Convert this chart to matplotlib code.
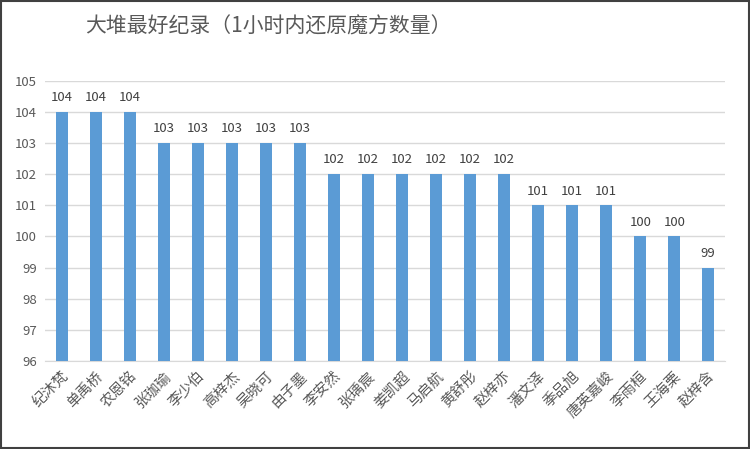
import matplotlib.pyplot as plt
from matplotlib.patches import Rectangle

plt.rcParams['font.family'] = ['Noto Sans CJK SC', 'DejaVu Sans']

names = ['纪沐梵', '单禹桥', '农恩铭', '张珈瑜', '李少伯', '高梓杰', '吴晓可', '由子墨',
         '李安然', '张瑀宸', '姜凯超', '马启航', '黄舒彤', '赵梓亦', '潘文泽', '季品旭',
         '唐英嘉峻', '李雨桓', '王海栗', '赵梓含']
scores = [104, 104, 104, 103, 103, 103, 103, 103, 102, 102, 102, 102, 102, 102,
          101, 101, 101, 100, 100, 99]
y_ticks = list(range(96, 106))

fig = plt.figure(figsize=(7.5, 4.49), dpi=100)
ax = fig.add_axes([0.06, 0.196, 0.907, 0.624])

x = range(len(names))
ax.bar(x, [s - 96 for s in scores], bottom=96, width=0.36, color='#5b9bd5', zorder=3)
for i, s in zip(x, scores):
    ax.text(i, s + 0.25, str(s), ha='center', va='bottom', fontsize=9.5, color='#404040')

ax.set_xlim(-0.5, len(names) - 0.5)
ax.set_ylim(96, 105)
ax.set_yticks(y_ticks)
ax.set_yticklabels([str(t) for t in y_ticks], fontsize=9.5, color='#595959')
ax.set_xticks(list(x))
ax.set_xticklabels(names, rotation=45, ha='right', rotation_mode='anchor',
                   fontsize=10.5, color='#595959')
ax.tick_params(length=0, pad=6)
ax.grid(axis='y', color='#d9d9d9', linewidth=1, zorder=0)
for sp in ['top', 'right', 'left']:
    ax.spines[sp].set_visible(False)
ax.spines['bottom'].set_color('#d9d9d9')

fig.text(0.358, 0.94, '大堆最好纪录（1小时内还原魔方数量）', ha='center', va='center',
         fontsize=15, color='#595959')

fig.patches.append(Rectangle((0.001, 0.002), 0.997, 0.996, transform=fig.transFigure,
                             fill=False, edgecolor='#404040', linewidth=1.5))

fig.savefig('out.png', dpi=100)
